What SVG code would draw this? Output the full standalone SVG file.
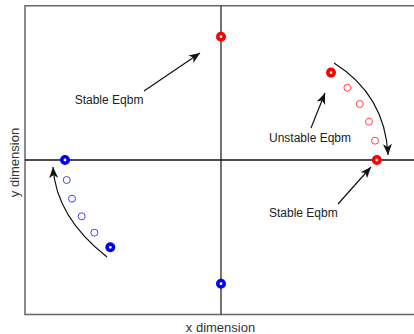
<svg xmlns="http://www.w3.org/2000/svg" width="414" height="334" viewBox="0 0 414 334">
<style>
.frame{stroke:#666;stroke-width:1.5;fill:none}
.axis{stroke:#111;stroke-width:1.3;fill:none}
.vaxis{stroke:#444;stroke-width:1.5;fill:none}
.conn{stroke:#111;stroke-width:1.2;fill:none}
.eqR{fill:#fff;stroke:#f00;stroke-width:3.6}
.eqB{fill:#fff;stroke:#00f;stroke-width:3.6}
.trR{fill:none;stroke:#f44;stroke-width:1}
.trB{fill:none;stroke:#44f;stroke-width:1}
.lbl{font-family:"Liberation Sans",Arial,sans-serif;font-size:12px;fill:#222}
.ax{font-family:"Liberation Sans",Arial,sans-serif;font-size:13px;fill:#333}
</style>
<defs>
<marker id="ah" markerUnits="userSpaceOnUse" markerWidth="12" markerHeight="10" refX="11" refY="4.5" orient="auto">
<path d="M0,0 L11,4.5 L0,9 L3,4.5 z" fill="#111"/>
</marker>
</defs>
<rect width="414" height="334" fill="#fff"/>
<g id="frame">
<path class="frame" d="M414,5.7 H25 V314.5 H414"/>
<path class="vaxis" d="M221,5.7 V314.5"/>
<path class="axis" d="M25,160 H414"/>
</g>
<g id="connectors">
<path class="conn" d="M144,91 L200,53" marker-end="url(#ah)"/>
<path class="conn" d="M311,128 L325,93" marker-end="url(#ah)"/>
<path class="conn" d="M338,204 L371,167" marker-end="url(#ah)"/>
<path class="conn" d="M334,63 Q385,95 388,155" marker-end="url(#ah)"/>
<path class="conn" d="M107,257 Q56,217 53,167" marker-end="url(#ah)"/>
</g>
<g id="stable-top"><circle class="eqR" cx="221" cy="36.7" r="3.2"/></g>
<g id="unstable-red"><circle class="eqR" cx="331" cy="72.6" r="3.2"/></g>
<g id="trail-red">
<circle class="trR" cx="347.4" cy="87.8" r="3.5"/>
<circle class="trR" cx="359.8" cy="104" r="3.5"/>
<circle class="trR" cx="369" cy="121.7" r="3.5"/>
<circle class="trR" cx="375" cy="140.7" r="3.5"/>
</g>
<g id="stable-right"><circle class="eqR" cx="376.8" cy="160" r="3.2"/></g>
<g id="stable-left"><circle class="eqB" cx="65" cy="160" r="3.2"/></g>
<g id="trail-blue">
<circle class="trB" cx="66.7" cy="180" r="3.5"/>
<circle class="trB" cx="72" cy="198.7" r="3.5"/>
<circle class="trB" cx="81.7" cy="216.3" r="3.5"/>
<circle class="trB" cx="94.3" cy="232.7" r="3.5"/>
</g>
<g id="unstable-blue"><circle class="eqB" cx="110.3" cy="247.3" r="3.2"/></g>
<g id="stable-bottom"><circle class="eqB" cx="221" cy="283.7" r="3.2"/></g>
<g id="labels">
<text class="lbl" x="74.7" y="103.5">Stable Eqbm</text>
<text class="lbl" x="269" y="141.7">Unstable Eqbm</text>
<text class="lbl" x="269" y="217">Stable Eqbm</text>
<text class="ax" x="220.5" y="332" text-anchor="middle">x dimension</text>
<text class="ax" transform="translate(18.5,162.5) rotate(-90)" text-anchor="middle">y dimension</text>
</g>
</svg>
